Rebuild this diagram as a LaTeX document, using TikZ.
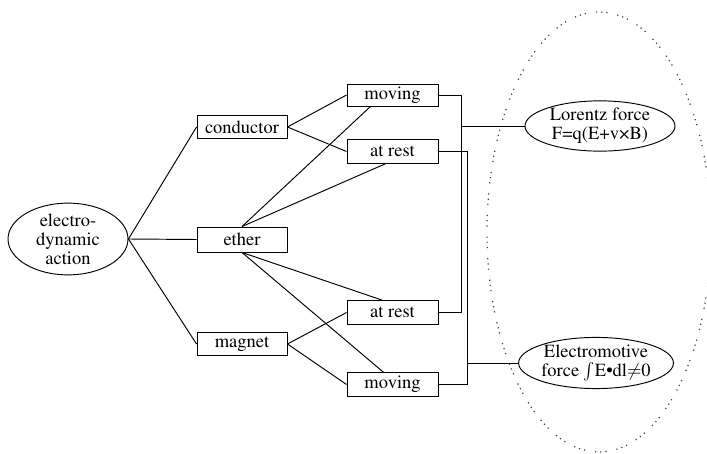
\documentclass[tikz,border=0pt]{standalone}
\usepackage[T1]{fontenc}
\usepackage{textcomp}
\usepackage{mathptmx}
\usetikzlibrary{shapes.geometric}
\begin{document}
\begin{tikzpicture}[x=1pt,y=-1pt,
  every node/.style={font=\fontsize{18.5}{19}\selectfont, inner sep=0pt, align=center},
  box/.style={draw, line width=0.95pt, rectangle, minimum width=90pt, minimum height=23.5pt},
  oval/.style={draw, line width=0.95pt, ellipse},
  link/.style={line width=0.95pt},
  grp/.style={draw=black!75, line width=1.2pt, dash pattern=on 1.2pt off 4pt on 1.2pt off 4pt on 1.2pt off 10pt}]
\useasboundingbox (0,0) rectangle (707,454);
\clip (0,0) rectangle (707,454);
% dotted group ellipse
\coordinate (gc) at (599,232);
\draw[grp] (gc) ellipse [x radius=112pt, y radius=220pt];
% nodes
\node[oval, minimum width=120pt, minimum height=62pt] (eda) at (68,239) {electro-\\dynamic\\action};
\node[box] (cond) at (242,127) {conductor};
\node[box, minimum height=25pt] (ether) at (242,239.5) {ether};
\node[box] (mag) at (242,344) {magnet};
\node[box, minimum width=91pt, minimum height=22pt] (mov1) at (392.5,95) {moving};
\node[box, minimum width=91pt] (rest1) at (392.5,151.5) {at rest};
\node[box, minimum width=91pt] (rest2) at (392.5,312.5) {at rest};
\node[box, minimum width=91pt] (mov2) at (392.5,384.5) {moving};
\node[oval, minimum width=150pt, minimum height=50pt] (lor) at (600,126) {Lorentz force\\F=q(E+v\texttimes B)};
\node[oval, minimum width=142pt, minimum height=47pt] (emf) at (596,363) {Electromotive\\force $\int$E\textbullet dl$\neq$0};
\coordinate (b1) at (461,0);
\coordinate (b2) at (467,0);
% connectors
\draw[link] (eda.east) -- (cond.west);
\draw[link] (eda.east) -- (ether.west);
\draw[link] (eda.east) -- (mag.west);
\draw[link] (cond.east) -- (mov1.west);
\draw[link] (cond.east) -- (rest1.west);
\draw[link] (ether.north) -- ([xshift=-22pt]mov1.south);
\draw[link] (ether.north) -- ([xshift=-7pt]rest1.south);
\draw[link] (ether.south) -- ([xshift=-10pt]rest2.north);
\draw[link] (ether.south) -- ([xshift=-9pt]mov2.north);
\draw[link] (mag.east) -- (rest2.west);
\draw[link] (mag.east) -- (mov2.west);
\draw[link] (mov1.east) -- (mov1.east -| b1) -- (rest2.east -| b1) -- (rest2.east);
\draw[link] (lor.west) -- (lor.west -| b1);
\draw[link] (rest1.east) -- (rest1.east -| b2) -- (mov2.east -| b2) -- (mov2.east);
\draw[link] (emf.west) -- (emf.west -| b2);
\end{tikzpicture}
\end{document}
